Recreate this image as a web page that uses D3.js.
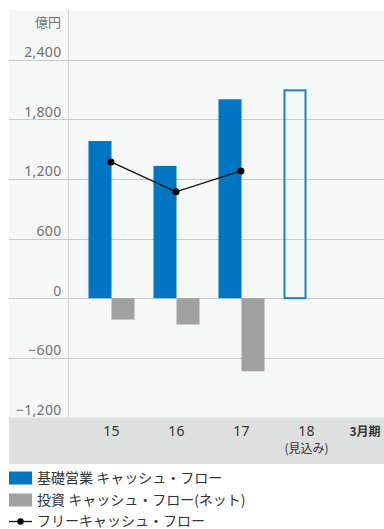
<!DOCTYPE html>
<html>
<head>
<meta charset="utf-8">
<script src="https://cdn.jsdelivr.net/npm/d3@7"></script>
<style>
  html, body { margin: 0; padding: 0; background: #ffffff; }
  svg { display: block; font-family: "Noto Sans", "Noto Sans CJK JP", sans-serif; }
  .jp { font-family: "Noto Sans CJK JP", "Noto Sans", sans-serif; }
</style>
</head>
<body>
<svg id="chart" width="384" height="529"></svg>
<script>
// Fiscal years (March year-end) and cash-flow figures, 億円
const years = ["15", "16", "17", "18"];
const yearNotes = ["", "", "", "(見込み)"];
const operatingCF = [1580, 1330, 2000, 2100];   // 18 is a forecast (outlined)
const forecastFlags = [false, false, false, true];
const investingCF = [-215, -265, -735, null];
const freeCF = [1370, 1070, 1280, null];
const yTicks = [-1200, -600, 0, 600, 1200, 1800, 2400];
const unitLabel = "億円";
const periodLabel = "3月期";
const legendItems = [
  { type: "rect", color: "#0075c1", text: "基礎営業 キャッシュ・フロー" },
  { type: "rect", color: "#a0a1a0", text: "投資 キャッシュ・フロー(ネット)" },
  { type: "line", color: "#111111", text: "フリーキャッシュ・フロー" }
];

const svg = d3.select("#chart");
const blue = "#0075c1", grey = "#a0a1a0";

const panel = { left: 9, right: 384, top: 10, bottom: 417.5 };
const axisX = 68;

const y = d3.scaleLinear().domain([-1200, 2400]).range([417.5, 59.5]);
const x = d3.scalePoint().domain(years).range([111.5, 306.5]);
const barW = 23;

// plot background
svg.append("rect")
  .attr("x", panel.left).attr("y", panel.top)
  .attr("width", panel.right - panel.left).attr("height", panel.bottom - panel.top)
  .attr("fill", "#f6f8f8");

// category band
svg.append("rect")
  .attr("x", panel.left).attr("y", panel.bottom)
  .attr("width", panel.right - panel.left).attr("height", 46.5)
  .attr("fill", "#dedfdf");

// horizontal gridlines (the bottom tick sits on the band edge)
svg.append("g").selectAll("line")
  .data(yTicks.filter(t => t > -1200))
  .join("line")
  .attr("x1", panel.left).attr("x2", panel.right)
  .attr("y1", d => Math.round(y(d)) + 0.5).attr("y2", d => Math.round(y(d)) + 0.5)
  .attr("stroke", "#c8c9c9").attr("stroke-width", 1.2);

// vertical axis line
svg.append("line")
  .attr("x1", axisX + 0.5).attr("x2", axisX + 0.5)
  .attr("y1", panel.top).attr("y2", panel.bottom)
  .attr("stroke", "#cfd0d0").attr("stroke-width", 1);

// tick labels
const fmt = d3.format(",");
svg.append("g").selectAll("text")
  .data(yTicks)
  .join("text")
  .attr("x", 61.5).attr("y", d => y(d) - 2.5)
  .attr("text-anchor", "end")
  .attr("font-size", 14).attr("fill", "#707070")
  .attr("letter-spacing", 0.3)
  .text(d => (d < 0 ? "\u2212" : "") + fmt(Math.abs(d)));

svg.append("text")
  .attr("class", "jp")
  .attr("x", 61).attr("y", 26.5)
  .attr("text-anchor", "end")
  .attr("font-size", 13).attr("fill", "#707070")
  .text(unitLabel);

// operating cash-flow bars (left of the year centre)
svg.append("g").selectAll("rect")
  .data(years.map((yr, i) => ({ yr, v: operatingCF[i], f: forecastFlags[i] })))
  .join("rect")
  .attr("x", d => x(d.yr) - barW + (d.f ? 1 : 0))
  .attr("y", d => y(d.v) + (d.f ? 1 : 0))
  .attr("width", d => barW - (d.f ? 2 : 0))
  .attr("height", d => y(0) - y(d.v) - (d.f ? 1 : 0))
  .attr("fill", d => d.f ? "none" : blue)
  .attr("stroke", d => d.f ? "#1a80cb" : "none")
  .attr("stroke-width", d => d.f ? 2 : 0);

// investing cash-flow bars (right of the year centre)
svg.append("g").selectAll("rect")
  .data(years.map((yr, i) => ({ yr, v: investingCF[i] })).filter(d => d.v !== null))
  .join("rect")
  .attr("x", d => x(d.yr))
  .attr("y", y(0))
  .attr("width", barW)
  .attr("height", d => y(d.v) - y(0))
  .attr("fill", grey);

// free cash-flow line
const fcf = years.map((yr, i) => ({ yr, v: freeCF[i] })).filter(d => d.v !== null);
svg.append("path")
  .datum(fcf)
  .attr("d", d3.line().x(d => x(d.yr) - 0.5).y(d => y(d.v)))
  .attr("fill", "none").attr("stroke", "#111").attr("stroke-width", 1.3);
svg.append("g").selectAll("circle")
  .data(fcf)
  .join("circle")
  .attr("cx", d => x(d.yr) - 0.5).attr("cy", d => y(d.v))
  .attr("r", 3.5).attr("fill", "#000");

// year labels
svg.append("g").selectAll("text")
  .data(years)
  .join("text")
  .attr("x", d => x(d)).attr("y", 436)
  .attr("text-anchor", "middle")
  .attr("font-size", 14).attr("fill", "#333")
  .attr("letter-spacing", 0.3)
  .text(d => d);
svg.append("g").selectAll("text")
  .data(years.map((yr, i) => ({ yr, note: yearNotes[i] })).filter(d => d.note))
  .join("text")
  .attr("class", "jp")
  .attr("x", d => x(d.yr)).attr("y", 452.5)
  .attr("text-anchor", "middle")
  .attr("font-size", 12).attr("fill", "#333")
  .text(d => d.note);
svg.append("text")
  .attr("class", "jp")
  .attr("x", 365).attr("y", 436)
  .attr("text-anchor", "middle")
  .attr("font-size", 12).attr("font-weight", "bold").attr("fill", "#333")
  .text(periodLabel);

// legend
const legendRows = [478, 500, 521];
const leg = svg.append("g").selectAll("g")
  .data(legendItems)
  .join("g")
  .attr("transform", (d, i) => `translate(9, ${legendRows[i]})`);
leg.filter(d => d.type === "rect").append("rect")
  .attr("x", 0).attr("y", -6.5).attr("width", 23).attr("height", 13)
  .attr("fill", d => d.color);
leg.filter(d => d.type === "line").append("line")
  .attr("x1", 0).attr("x2", 23).attr("y1", 0.5).attr("y2", 0.5)
  .attr("stroke", d => d.color).attr("stroke-width", 1.3);
leg.filter(d => d.type === "line").append("circle")
  .attr("cx", 11.5).attr("cy", 0.5).attr("r", 3.2).attr("fill", "#000");
leg.append("text")
  .attr("class", "jp")
  .attr("x", 28).attr("y", 4.5)
  .attr("font-size", 14).attr("fill", "#333")
  .text(d => d.text);
</script>
</body>
</html>
